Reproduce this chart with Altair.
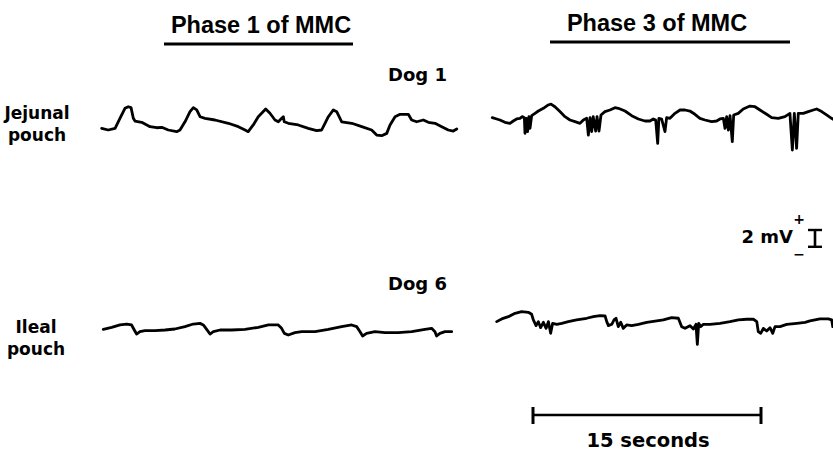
import altair as alt
import pandas as pd

# ---------------- data ----------------
# time in seconds from the start of each trace, potential in mV from its baseline
jej_p1_t = [0, 0.43, 0.88, 1.20, 1.53, 1.75, 1.93, 2.08, 2.19, 2.63, 3.18, 3.62, 3.95, 4.38, 4.93,
            5.15, 5.48, 5.81, 6.03, 6.25, 6.47, 6.80, 7.45, 8.33, 8.99, 9.43, 9.64, 9.97, 10.30, 10.79,
            11.07, 11.40, 11.62, 11.84, 11.95, 12.01, 12.28, 12.93, 13.59, 14.14, 14.47, 14.69, 14.91, 15.24, 15.46,
            15.79, 16.45, 17.11, 17.76, 18.09, 18.42, 18.75, 18.97, 19.30, 19.63, 20.17, 20.39, 20.72, 21.16, 21.49,
            21.93, 22.37, 22.80, 23.13, 23.36]
jej_p1_mv = [0.20, 0, 0.20, 1.39, 2.58, 2.77, 2.66, 1.39, 1.07, 0.92, 0.40, 0.27, 0.32, 0, -0.20,
             0, 0.98, 2.18, 2.66, 2.39, 1.58, 1.39, 1.19, 0.80, 0.40, 0, -0.20, 0.60, 1.58, 2.50,
             1.99, 1.19, 0.98, 1.39, 1.58, 0.98, 0.80, 0.60, 0.20, -0.08, 0, 0.80, 1.58, 2.39, 2.18,
             0.98, 0.80, 0.40, 0, -0.60, -0.68, -0.40, 0.60, 1.58, 1.87, 1.87, 1.19, 0.98, 1.19, 0.92,
             0.80, 0.40, 0, -0.12, 0.12]

jej_p3_t = [0, 0.29, 0.50, 0.83, 1.16, 1.38, 1.60, 1.82, 1.97, 2.11, 2.15, 2.24, 2.32, 2.41, 2.48,
            2.59, 2.81, 3.03, 3.36, 3.68, 3.86, 4.12, 4.45, 4.78, 5.11, 5.44, 5.77, 5.99, 6.21, 6.32,
            6.43, 6.54, 6.64, 6.80, 6.89, 7.02, 7.15, 7.41, 7.74, 8.07, 8.29, 8.73, 9.17, 9.61, 10.04,
            10.37, 10.59, 10.75, 10.88, 10.96, 11.14, 11.36, 11.47, 11.69, 12.02, 12.35, 12.68, 13.00, 13.33, 13.66,
            13.99, 14.43, 14.76, 14.98, 15.20, 15.31, 15.42, 15.53, 15.64, 15.79, 15.88, 16.18, 16.51, 16.95, 17.28,
            17.61, 18.05, 18.38, 18.82, 19.25, 19.58, 19.74, 19.87, 20.02, 20.13, 20.46, 20.79, 21.12, 21.34, 21.67,
            21.99, 22.32, 22.43]
jej_p3_mv = [0.28, 0.12, 0, -0.28, -0.40, -0.12, 0.12, 0.20, 0.40, 0.28, -1.58, 0.20, -1.39, 0.40, -1.00,
             0.52, 0.79, 1.07, 1.39, 1.79, 1.90, 1.58, 1.00, 0.40, 0, -0.20, -0.40, 0, 0.20, -1.79,
             0.28, -1.39, 0.40, -1.31, 0.40, -1.31, 0.60, 1.00, 1.19, 1.47, 1.39, 1.07, 0.52, 0.12, -0.12,
             -0.12, 0.12, 0, -2.78, 0.20, 0.12, -1.39, 0.28, 0.20, 0.79, 1.19, 1.19, 1.07, 0.68, 0.20,
             0, -0.20, -0.12, 0.12, 0.20, -1.00, 0.40, -1.19, 0.52, -2.58, 0.60, 0.79, 1.31, 1.66, 1.58,
             1.19, 0.68, 0.28, 0.20, 0.40, 0.79, -3.57, 0.79, -3.37, 0.79, 0.79, 1.00, 1.19, 1.31, 1.00,
             0.60, 0.20, 0.08]

ile_p1_t = [0, 0.55, 1.10, 1.54, 1.86, 2.04, 2.19, 2.41, 2.74, 3.40, 4.06, 4.71, 5.37, 5.92, 6.36,
            6.58, 6.80, 7.02, 7.24, 7.68, 8.44, 9.32, 10.20, 10.86, 11.51, 11.73, 11.91, 12.17, 12.61, 13.05,
            13.93, 14.80, 15.68, 16.34, 16.67, 16.89, 17.06, 17.32, 17.87, 18.53, 19.41, 20.29, 21.16, 21.60, 21.82,
            21.93, 22.15, 22.48, 22.92]
ile_p1_mv = [0.08, 0.32, 0.60, 0.71, 0.60, 0, -0.48, -0.20, -0.08, -0.08, 0, 0.12, 0.40, 0.71, 0.79,
             0.60, 0.08, -0.48, -0.20, 0, 0, 0.08, 0.32, 0.60, 0.60, 0.20, -0.40, -0.60, -0.32, -0.20,
             -0.20, 0.08, 0.40, 0.60, 0.40, -0.20, -0.71, -0.40, -0.20, -0.32, -0.32, -0.20, 0.08, 0.20, -0.20,
             -0.71, -0.40, -0.20, -0.20]

ile_p3_t = [0, 0.33, 0.77, 1.21, 1.64, 2.08, 2.30, 2.41, 2.59, 2.74, 2.89, 3.07, 3.25, 3.40, 3.55,
            3.68, 3.95, 4.28, 4.71, 5.26, 5.92, 6.36, 6.80, 7.13, 7.24, 7.35, 7.57, 7.72, 7.85, 8.00,
            8.16, 8.33, 8.55, 8.88, 9.32, 9.87, 10.53, 10.96, 11.51, 11.95, 12.17, 12.39, 12.72, 12.94, 13.11,
            13.20, 13.29, 13.42, 13.60, 14.04, 14.69, 15.35, 15.90, 16.45, 16.89, 17.11, 17.21, 17.37, 17.54, 17.76,
            17.98, 18.16, 18.31, 18.64, 19.08, 19.74, 20.29, 20.61, 21.27, 21.82, 22.04, 22.11]
ile_p3_mv = [0.20, 0.52, 0.79, 1.19, 1.39, 1.31, 1.07, 0.40, -0.28, 0.20, -0.52, 0.12, -0.60, 0.20, -1.19,
             0, -0.12, 0, 0.20, 0.40, 0.60, 0.79, 0.92, 0.87, 0.20, -0.28, -0.12, 0.40, 0.60, -0.40,
             0.12, -0.60, -0.20, -0.28, -0.12, 0.12, 0.28, 0.40, 0.68, 0.60, -0.40, -0.60, -0.28, -0.68, -0.12,
             -2.50, 0, -0.40, -0.12, -0.12, 0, 0.20, 0.40, 0.48, 0.48, 0.20, -1.00, -1.19, -0.60, -0.92,
             -0.52, -1.19, -0.40, -0.40, -0.12, 0, 0.12, 0.28, 0.52, 0.52, 0.40, -0.40]

phase_titles = ["Phase 1 of MMC", "Phase 3 of MMC"]
dog_labels = ["Dog 1", "Dog 6"]
pouch_labels = [["Jejunal", "pouch"], ["Ileal", "pouch"]]
TIME_BAR_S = 15
VOLT_BAR_MV = 2
time_bar_label = "15 seconds"
volt_bar_label = "2 mV"

# ---------------- layout ----------------
W, H = 833, 451
PX_PER_S = 15.2
PX_PER_MV = 8.4
FONT = "DejaVu Sans"
TITLE_FONT = "Liberation Sans, Arial"

traces = [
    ("jej_p1", jej_p1_t, jej_p1_mv, 101.7, 130.0),
    ("jej_p3", jej_p3_t, jej_p3_mv, 492.3, 120.0),
    ("ile_p1", ile_p1_t, ile_p1_mv, 103.3, 330.0),
    ("ile_p3", ile_p3_t, ile_p3_mv, 496.7, 323.3),
]
rows = []
for name, ts, vs, x0, y0 in traces:
    for i, (t, v) in enumerate(zip(ts, vs)):
        rows.append({"trace": name, "i": i, "x": x0 + t * PX_PER_S, "y": y0 - v * PX_PER_MV})
df = pd.DataFrame(rows)

xs = alt.Scale(domain=[0, W], range=[0, W])
ys = alt.Scale(domain=[0, H], range=[0, H])

lines = alt.Chart(df).mark_line(color="black", strokeWidth=2.8, strokeJoin="round", strokeCap="round").encode(
    x=alt.X("x:Q", scale=xs, axis=None),
    y=alt.Y("y:Q", scale=ys, axis=None),
    detail="trace:N",
    order="i:Q",
)

# rule segments: underlines and calibration bars
tb_x0, tb_y = 533, 415
vb_x, vb_y0 = 815, 230
vb_len = VOLT_BAR_MV * PX_PER_MV
tb_len = TIME_BAR_S * PX_PER_S
segs = pd.DataFrame([
    {"x": 164, "x2": 353, "y": 44, "y2": 44, "w": 3},
    {"x": 550, "x2": 790, "y": 42, "y2": 42, "w": 3},
    {"x": tb_x0, "x2": tb_x0 + tb_len, "y": tb_y, "y2": tb_y, "w": 2.6},
    {"x": tb_x0, "x2": tb_x0, "y": tb_y - 8, "y2": tb_y + 9, "w": 3},
    {"x": tb_x0 + tb_len, "x2": tb_x0 + tb_len, "y": tb_y - 8, "y2": tb_y + 9, "w": 3},
    {"x": vb_x, "x2": vb_x, "y": vb_y0, "y2": vb_y0 + vb_len, "w": 2.6},
    {"x": vb_x - 7, "x2": vb_x + 7, "y": vb_y0, "y2": vb_y0, "w": 2.4},
    {"x": vb_x - 7, "x2": vb_x + 7, "y": vb_y0 + vb_len, "y2": vb_y0 + vb_len, "w": 2.4},
])
rules = alt.Chart(segs).mark_rule(color="black").encode(
    x=alt.X("x:Q", scale=xs, axis=None), x2="x2:Q",
    y=alt.Y("y:Q", scale=ys, axis=None), y2="y2:Q",
    strokeWidth=alt.StrokeWidth("w:Q", scale=None),
)


def text_layer(items, size, align, font=FONT):
    d = pd.DataFrame(items)
    return alt.Chart(d).mark_text(
        font=font, fontWeight="bold", fontSize=size, align=align, baseline="alphabetic", color="black"
    ).encode(
        x=alt.X("x:Q", scale=xs, axis=None),
        y=alt.Y("y:Q", scale=ys, axis=None),
        text="t:N",
    )


titles = text_layer([
    {"x": 261, "y": 33, "t": phase_titles[0]},
    {"x": 657, "y": 31, "t": phase_titles[1]},
], 23.5, "center", TITLE_FONT)

dogs = text_layer([
    {"x": 447, "y": 81, "t": dog_labels[0]},
    {"x": 447, "y": 290, "t": dog_labels[1]},
], 18, "right")

pouches = text_layer([
    {"x": 37, "y": 119, "t": pouch_labels[0][0]},
    {"x": 37, "y": 141, "t": pouch_labels[0][1]},
    {"x": 36, "y": 333, "t": pouch_labels[1][0]},
    {"x": 36, "y": 355, "t": pouch_labels[1][1]},
], 17, "center")

bar_labels = text_layer([
    {"x": 648, "y": 447, "t": time_bar_label},
], 19.5, "center")

mv_label = text_layer([
    {"x": 793, "y": 243, "t": volt_bar_label},
], 18, "right")

signs = text_layer([
    {"x": 799, "y": 224, "t": "+"},
    {"x": 799, "y": 259, "t": "\u2212"},
], 14, "center")

chart = alt.layer(lines, rules, titles, dogs, pouches, bar_labels, mv_label, signs).properties(
    width=W, height=H, padding=0, autosize="none", background="white"
).configure_view(stroke=None)

chart.save("out.html", embed_options={"renderer": "svg", "actions": False})
